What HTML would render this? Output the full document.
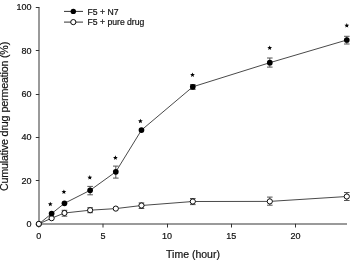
<!DOCTYPE html><html><head><meta charset="utf-8"><style>html,body{margin:0;padding:0;background:#fff;}svg{display:block;will-change:transform;}text{font-family:"Liberation Sans",sans-serif;stroke:#111;stroke-width:0.2px;}</style></head><body>
<div id="w"><svg width="350" height="260" viewBox="0 0 350 260">
<rect width="350" height="260" fill="#fff"/>
<line x1="39" y1="7" x2="39" y2="225" stroke="#9a9a9a" stroke-width="2"/>
<line x1="38" y1="224" x2="347" y2="224" stroke="#9a9a9a" stroke-width="2"/>
<line x1="35.8" y1="224.50" x2="39.2" y2="224.50" stroke="#333" stroke-width="1"/>
<text x="31.6" y="226.95" font-size="9" text-anchor="end" fill="#111">0</text>
<line x1="35.8" y1="180.50" x2="39.2" y2="180.50" stroke="#333" stroke-width="1"/>
<text x="31.6" y="183.65" font-size="9" text-anchor="end" fill="#111">20</text>
<line x1="35.8" y1="137.50" x2="39.2" y2="137.50" stroke="#333" stroke-width="1"/>
<text x="31.6" y="140.35" font-size="9" text-anchor="end" fill="#111">40</text>
<line x1="35.8" y1="94.50" x2="39.2" y2="94.50" stroke="#333" stroke-width="1"/>
<text x="31.6" y="97.05" font-size="9" text-anchor="end" fill="#111">60</text>
<line x1="35.8" y1="50.50" x2="39.2" y2="50.50" stroke="#333" stroke-width="1"/>
<text x="31.6" y="53.75" font-size="9" text-anchor="end" fill="#111">80</text>
<line x1="35.8" y1="7.50" x2="39.2" y2="7.50" stroke="#333" stroke-width="1"/>
<text x="31.6" y="10.45" font-size="9" text-anchor="end" fill="#111">100</text>
<line x1="38.80" y1="223.8" x2="38.80" y2="227.5" stroke="#333" stroke-width="1"/>
<text x="38.80" y="239.2" font-size="9" text-anchor="middle" fill="#111">0</text>
<line x1="103.00" y1="223.8" x2="103.00" y2="227.5" stroke="#333" stroke-width="1"/>
<text x="102.97" y="239.2" font-size="9" text-anchor="middle" fill="#111">5</text>
<line x1="167.50" y1="223.8" x2="167.50" y2="227.5" stroke="#333" stroke-width="1"/>
<text x="167.13" y="239.2" font-size="9" text-anchor="middle" fill="#111">10</text>
<line x1="231.50" y1="223.8" x2="231.50" y2="227.5" stroke="#333" stroke-width="1"/>
<text x="231.30" y="239.2" font-size="9" text-anchor="middle" fill="#111">15</text>
<line x1="295.50" y1="223.8" x2="295.50" y2="227.5" stroke="#333" stroke-width="1"/>
<text x="295.47" y="239.2" font-size="9" text-anchor="middle" fill="#111">20</text>
<text x="193" y="257.5" font-size="10.5" text-anchor="middle" fill="#111">Time (hour)</text>
<text transform="translate(7.8,191.0) rotate(-90)" font-size="10.65" fill="#111" textLength="75.5" lengthAdjust="spacing">Cumulative drug</text>
<text transform="translate(7.8,41.8) rotate(-90)" font-size="10.65" text-anchor="end" fill="#111" textLength="70.6" lengthAdjust="spacing">permeation (%)</text>
<polyline points="38.80,224.00 51.63,213.60 64.47,203.30 90.13,190.30 115.80,171.80 141.47,130.10 192.80,86.80 269.80,62.70 346.80,40.00" fill="none" stroke="#4a4a4a" stroke-width="1"/>
<polyline points="38.80,223.90 51.63,218.20 64.47,213.00 90.13,210.20 115.80,208.60 141.47,205.50 192.80,201.50 269.80,201.40 346.80,196.50" fill="none" stroke="#4a4a4a" stroke-width="1"/>
<path d="M90.13,186.40V194.80M87.33,186.40H92.93M87.33,194.80H92.93" stroke="#555" stroke-width="1" fill="none"/>
<path d="M115.80,166.10V178.10M113.00,166.10H118.60M113.00,178.10H118.60" stroke="#555" stroke-width="1" fill="none"/>
<path d="M192.80,84.60V89.40M190.00,84.60H195.60M190.00,89.40H195.60" stroke="#555" stroke-width="1" fill="none"/>
<path d="M269.80,58.00V67.10M267.00,58.00H272.60M267.00,67.10H272.60" stroke="#555" stroke-width="1" fill="none"/>
<path d="M346.80,36.30V44.00M344.00,36.30H349.60M344.00,44.00H349.60" stroke="#555" stroke-width="1" fill="none"/>
<path d="M64.47,210.30V216.20M61.67,210.30H67.27M61.67,216.20H67.27" stroke="#555" stroke-width="1" fill="none"/>
<path d="M90.13,207.70V212.70M87.33,207.70H92.93M87.33,212.70H92.93" stroke="#555" stroke-width="1" fill="none"/>
<path d="M141.47,202.90V208.50M138.67,202.90H144.27M138.67,208.50H144.27" stroke="#555" stroke-width="1" fill="none"/>
<path d="M192.80,198.50V204.60M190.00,198.50H195.60M190.00,204.60H195.60" stroke="#555" stroke-width="1" fill="none"/>
<path d="M269.80,197.10V205.20M267.00,197.10H272.60M267.00,205.20H272.60" stroke="#555" stroke-width="1" fill="none"/>
<path d="M346.80,192.50V200.50M344.00,192.50H349.60M344.00,200.50H349.60" stroke="#555" stroke-width="1" fill="none"/>
<circle cx="51.63" cy="218.20" r="2.6" fill="#fff" stroke="#000" stroke-width="0.95"/>
<circle cx="64.47" cy="213.00" r="2.6" fill="#fff" stroke="#000" stroke-width="0.95"/>
<circle cx="90.13" cy="210.20" r="2.6" fill="#fff" stroke="#000" stroke-width="0.95"/>
<circle cx="115.80" cy="208.60" r="2.6" fill="#fff" stroke="#000" stroke-width="0.95"/>
<circle cx="141.47" cy="205.50" r="2.6" fill="#fff" stroke="#000" stroke-width="0.95"/>
<circle cx="192.80" cy="201.50" r="2.6" fill="#fff" stroke="#000" stroke-width="0.95"/>
<circle cx="269.80" cy="201.40" r="2.6" fill="#fff" stroke="#000" stroke-width="0.95"/>
<circle cx="346.80" cy="196.50" r="2.6" fill="#fff" stroke="#000" stroke-width="0.95"/>
<circle cx="38.80" cy="224.00" r="2.85" fill="#000"/>
<circle cx="51.63" cy="213.60" r="2.85" fill="#000"/>
<circle cx="64.47" cy="203.30" r="2.85" fill="#000"/>
<circle cx="90.13" cy="190.30" r="2.85" fill="#000"/>
<circle cx="115.80" cy="171.80" r="2.85" fill="#000"/>
<circle cx="141.47" cy="130.10" r="2.85" fill="#000"/>
<circle cx="192.80" cy="86.80" r="2.85" fill="#000"/>
<circle cx="269.80" cy="62.70" r="2.85" fill="#000"/>
<circle cx="346.80" cy="40.00" r="2.85" fill="#000"/>
<circle cx="38.80" cy="223.90" r="2.6" fill="#fff" stroke="#000" stroke-width="0.95"/>
<polygon points="50.30,201.70 50.95,203.31 52.68,203.43 51.35,204.54 51.77,206.22 50.30,205.30 48.83,206.22 49.25,204.54 47.92,203.43 49.65,203.31" fill="#000"/>
<polygon points="63.90,189.50 64.55,191.11 66.28,191.23 64.95,192.34 65.37,194.02 63.90,193.10 62.43,194.02 62.85,192.34 61.52,191.23 63.25,191.11" fill="#000"/>
<polygon points="89.80,175.10 90.45,176.71 92.18,176.83 90.85,177.94 91.27,179.62 89.80,178.70 88.33,179.62 88.75,177.94 87.42,176.83 89.15,176.71" fill="#000"/>
<polygon points="115.40,155.30 116.05,156.91 117.78,157.03 116.45,158.14 116.87,159.82 115.40,158.90 113.93,159.82 114.35,158.14 113.02,157.03 114.75,156.91" fill="#000"/>
<polygon points="140.40,118.70 141.05,120.31 142.78,120.43 141.45,121.54 141.87,123.22 140.40,122.30 138.93,123.22 139.35,121.54 138.02,120.43 139.75,120.31" fill="#000"/>
<polygon points="192.50,72.50 193.15,74.11 194.88,74.23 193.55,75.34 193.97,77.02 192.50,76.10 191.03,77.02 191.45,75.34 190.12,74.23 191.85,74.11" fill="#000"/>
<polygon points="269.70,45.40 270.35,47.01 272.08,47.13 270.75,48.24 271.17,49.92 269.70,49.00 268.23,49.92 268.65,48.24 267.32,47.13 269.05,47.01" fill="#000"/>
<polygon points="346.80,23.10 347.45,24.71 349.18,24.83 347.85,25.94 348.27,27.62 346.80,26.70 345.33,27.62 345.75,25.94 344.42,24.83 346.15,24.71" fill="#000"/>
<line x1="64" y1="11.4" x2="83" y2="11.4" stroke="#333" stroke-width="1"/>
<circle cx="73.3" cy="11.4" r="2.7" fill="#000"/>
<line x1="64" y1="22.1" x2="83" y2="22.1" stroke="#333" stroke-width="1"/>
<circle cx="73.3" cy="22.1" r="2.6" fill="#fff" stroke="#000" stroke-width="0.95"/>
<text transform="translate(87.5,14.7) scale(0.95,1)" font-size="9.1" fill="#111">F5 + N7</text>
<text transform="translate(87.5,25.15) scale(0.95,1)" font-size="9.1" fill="#111">F5 + pure drug</text>
</svg></div></body></html>
